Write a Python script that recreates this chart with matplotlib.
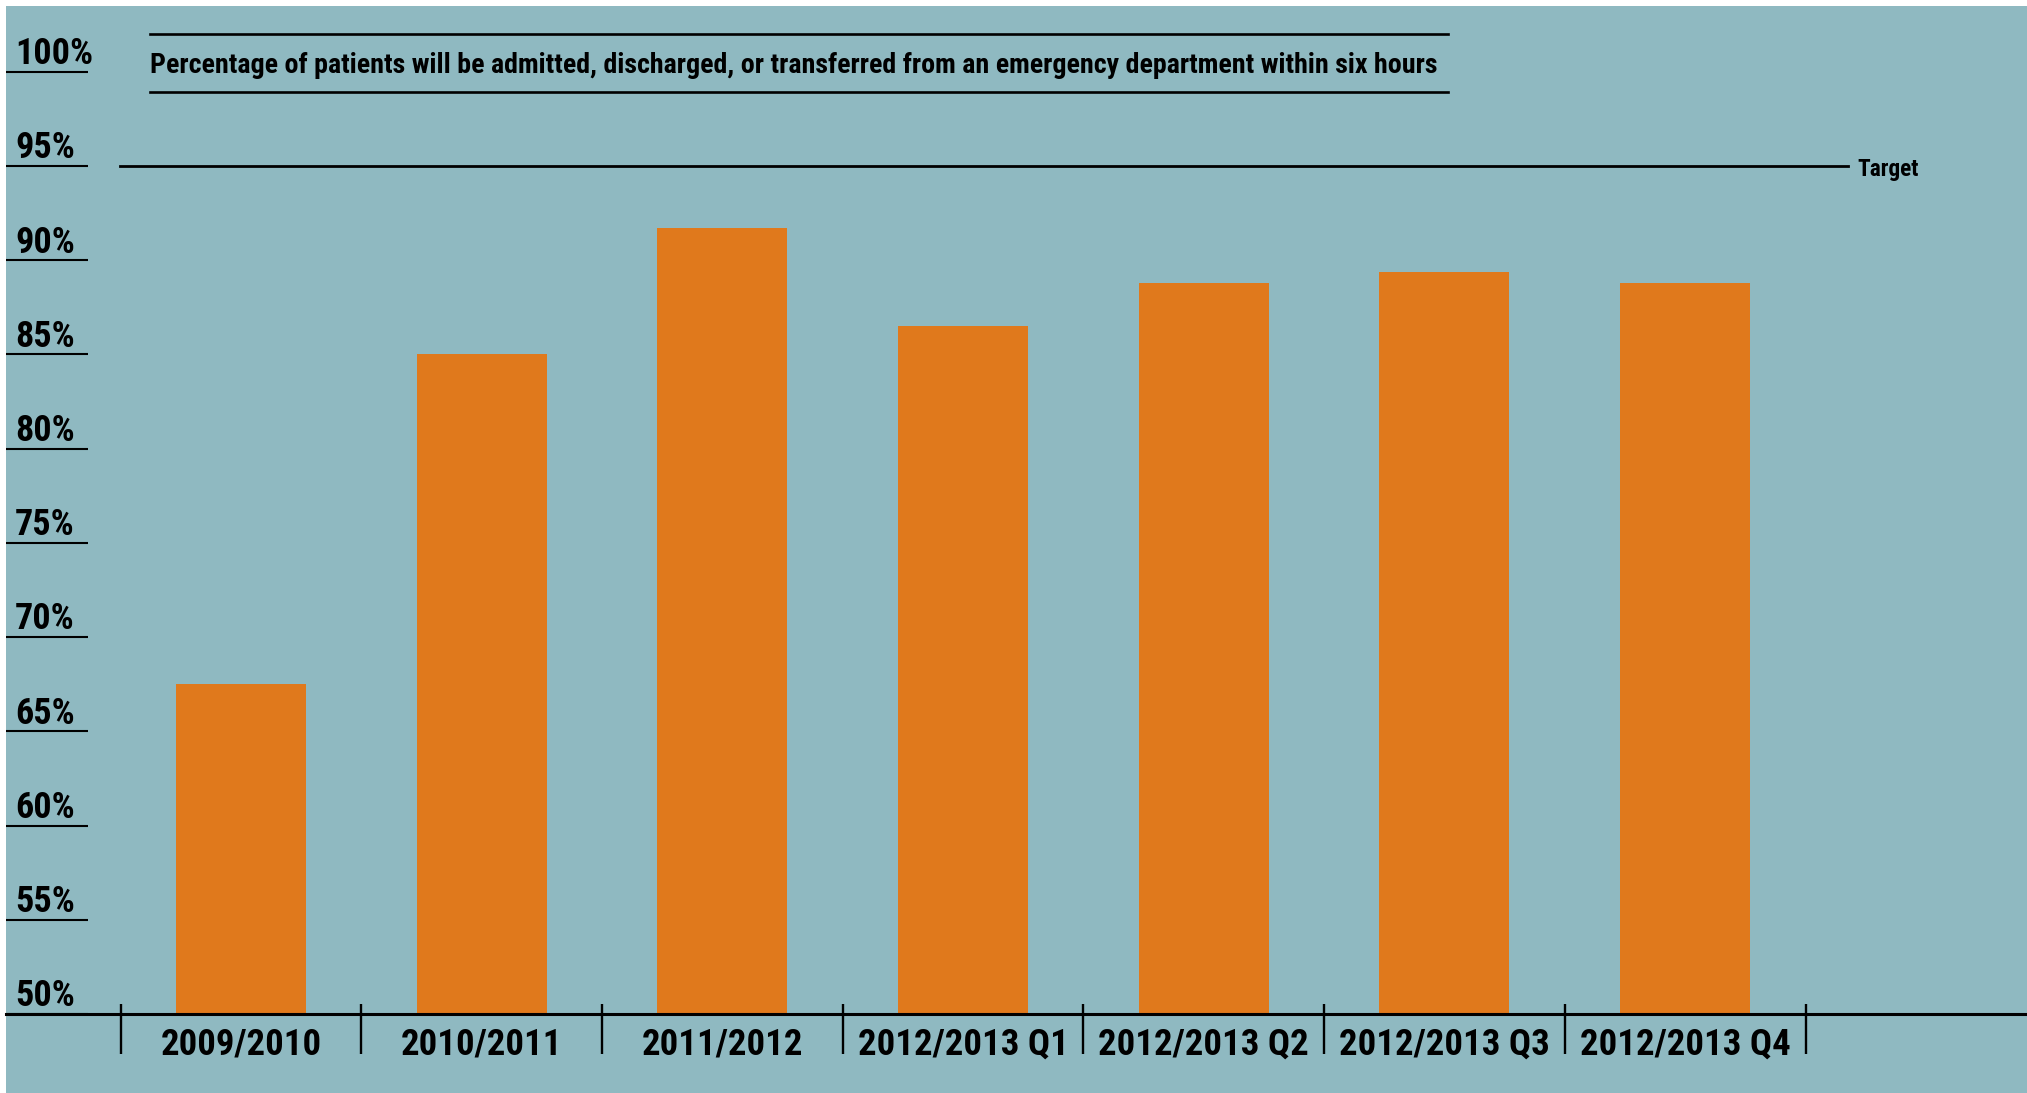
import numpy as np
import matplotlib
matplotlib.use("Agg")
import matplotlib.pyplot as plt
from matplotlib import font_manager as fm

# values (% seen within six hours)
periods = ["2009/2010", "2010/2011", "2011/2012", "2012/2013 Q1",
           "2012/2013 Q2", "2012/2013 Q3", "2012/2013 Q4"]
pct_within_6h = [67.5, 85.0, 91.7, 86.5, 88.8, 89.4, 88.8]
target = 95
ytick_vals = [50, 55, 60, 65, 70, 75, 80, 85, 90, 95, 100]
ytick_labels = [f"{v}%" for v in ytick_vals]
title = ("Percentage of patients will be admitted, discharged, or transferred "
         "from an emergency department within six hours")

bg = "#8fb9c1"
orange = "#e0791c"


def condensed_bold():
    # the original uses a condensed bold grotesque; take whatever narrow bold is installed
    order = ["Liberation Sans Narrow", "Roboto Condensed", "Open Sans Condensed",
             "Noto Sans", "Open Sans", "Roboto", "DejaVu Sans", "Liberation Sans"]
    stretch_rank = {"condensed": 0, "semi-condensed": 1, "extra-condensed": 2}
    cands = []
    for f in fm.fontManager.ttflist:
        if f.style != "normal":
            continue
        narrow = ("Narrow" in f.name or "Condensed" in f.name
                  or "ond" in f.fname.split("/")[-1])
        if f.stretch not in stretch_rank and not narrow:
            continue
        try:
            w = int(f.weight)
        except (TypeError, ValueError):
            w = fm.weight_dict.get(f.weight, 400)
        if w < 600:
            continue
        pri = order.index(f.name) if f.name in order else len(order)
        cands.append((pri, stretch_rank.get(f.stretch, 0), abs(w - 700), f.fname))
    if not cands:
        return fm.FontProperties(family="Liberation Sans", weight="bold")
    cands.sort()
    return fm.FontProperties(fname=cands[0][3])


fp = condensed_bold()


def font(size):
    p = fp.copy()
    p.set_size(size)
    return p


W, H, dpi = 2027, 1093, 100
fig = plt.figure(figsize=(W / dpi, H / dpi), dpi=dpi, facecolor="white")
ax = fig.add_axes([6 / W, 0, 1 - 6 / W, 1 - 6 / H])
ax.set_facecolor(bg)

ybot, ytop = 45.81, 103.49
ax.set_ylim(ybot, ytop)
ax.set_xlim(-0.976, 7.420)
px_per_unit = (H - 6) / (ytop - ybot)

x = np.arange(len(periods))
base = 50
ax.bar(x, np.array(pct_within_6h) - base, bottom=base, width=0.54,
       color=orange, zorder=1)

for s in ["top", "right", "left"]:
    ax.spines[s].set_visible(False)
ax.spines["bottom"].set_position(("data", base))
ax.spines["bottom"].set_linewidth(2.2)
ax.spines["bottom"].set_zorder(3)

# category labels + separators
ax.set_xticks(x)
ax.set_xticklabels(periods, fontproperties=font(26.5))
ax.tick_params(axis="x", length=0, pad=9)
ax.vlines(np.arange(len(periods) + 1) - 0.5,
          base - 40 / px_per_unit, base + 10 / px_per_unit,
          colors="black", lw=1.7, zorder=3)

# y labels: underline = inward tick, text sits just above it
ax.set_yticks(ytick_vals)
ax.set_yticklabels([])
ax.tick_params(axis="y", direction="in", length=59, width=1.5, color="black")
ytr = ax.get_yaxis_transform()
for v, lab in zip(ytick_vals, ytick_labels):
    ax.text(0.0045, v + 7.7 / px_per_unit, lab, transform=ytr,
            ha="left", va="baseline", fontproperties=font(26))

# target line
ax.axhline(target, xmin=0.0564, xmax=0.9114, color="black", lw=2.0, zorder=2)
ax.text(0.9159, target - 10 / px_per_unit, "Target", transform=ytr,
        ha="left", va="baseline", fontproperties=font(16.8))

# boxed title
x0, x1 = 150 / W, 1448 / W
for yy in (34, 92):
    fig.add_artist(plt.Line2D([x0, x1], [1 - yy / H, 1 - yy / H],
                              transform=fig.transFigure, color="black", lw=1.9))
fig.text(x0, 1 - 73.3 / H, title, ha="left", va="baseline",
         fontproperties=font(20.2))

fig.savefig("out.png", dpi=dpi, facecolor=fig.get_facecolor())
